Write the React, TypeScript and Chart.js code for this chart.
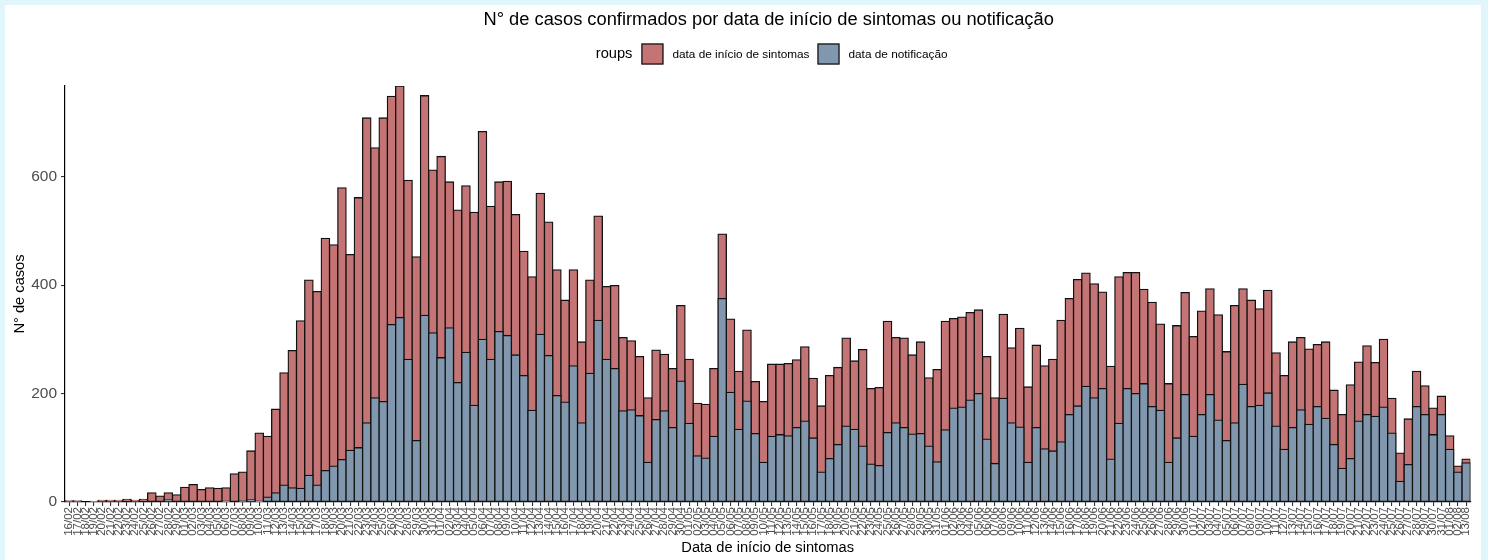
import React, { useEffect, useRef } from 'react';
import { Chart, registerables } from 'chart.js';

Chart.register(...registerables);

const dates: string[] = [
  '16/02', '17/02', '18/02', '19/02', '20/02', '21/02', '22/02', '23/02', '24/02', '25/02', '26/02', '27/02', '28/02', '29/02',
  '01/03', '02/03', '03/03', '04/03', '05/03', '06/03', '07/03', '08/03', '09/03', '10/03', '11/03', '12/03', '13/03', '14/03', '15/03', '16/03',
  '17/03', '18/03', '19/03', '20/03', '21/03', '22/03', '23/03', '24/03', '25/03', '26/03', '27/03', '28/03', '29/03', '30/03', '31/03',
  '01/04', '02/04', '03/04', '04/04', '05/04', '06/04', '07/04', '08/04', '09/04', '10/04', '11/04', '12/04', '13/04', '14/04', '15/04',
  '16/04', '17/04', '18/04', '19/04', '20/04', '21/04', '22/04', '23/04', '24/04', '25/04', '26/04', '27/04', '28/04', '29/04', '30/04',
  '01/05', '02/05', '03/05', '04/05', '05/05', '06/05', '07/05', '08/05', '09/05', '10/05', '11/05', '12/05', '13/05', '14/05', '15/05', '16/05',
  '17/05', '18/05', '19/05', '20/05', '21/05', '22/05', '23/05', '24/05', '25/05', '26/05', '27/05', '28/05', '29/05', '30/05', '31/05',
  '01/06', '02/06', '03/06', '04/06', '05/06', '06/06', '07/06', '08/06', '09/06', '10/06', '11/06', '12/06', '13/06', '14/06', '15/06',
  '16/06', '17/06', '18/06', '19/06', '20/06', '21/06', '22/06', '23/06', '24/06', '25/06', '26/06', '27/06', '28/06', '29/06', '30/06',
  '01/07', '02/07', '03/07', '04/07', '05/07', '06/07', '07/07', '08/07', '09/07', '10/07', '11/07', '12/07', '13/07', '14/07', '15/07', '16/07',
  '17/07', '18/07', '19/07', '20/07', '21/07', '22/07', '23/07', '24/07', '25/07', '26/07', '27/07', '28/07', '29/07', '30/07', '31/07',
  '01/08', '02/08', '13/08',
];

const sintomas: number[] = [
  2, 2, 0, 1, 3, 3, 3, 5, 3, 5, 17, 11, 17, 13, 27, 32, 23, 26, 25, 26,
  52, 55, 94, 127, 121, 171, 238, 279, 334, 409, 388, 486, 474, 579, 456, 561, 708, 653, 708, 748,
  767, 593, 452, 749, 612, 637, 590, 538, 583, 534, 683, 545, 590, 591, 530, 462, 415, 569,
  516, 428, 372, 428, 295, 409, 527, 397, 399, 303, 297, 268, 192, 280, 272, 246, 362, 263, 182, 180,
  246, 494, 337, 241, 317, 222, 185, 254, 254, 255, 262, 286, 228, 177, 233, 248, 302, 260, 281, 209,
  211, 333, 303, 302, 271, 295, 229, 244, 333, 338, 341, 349, 354, 268, 192, 346,
  284, 320, 212, 289, 251, 263, 335, 375, 410, 422, 402, 387, 250, 415, 423, 423, 392, 368, 328, 218,
  325, 386, 305, 352, 393, 345, 277, 362, 393, 372, 356, 390, 275, 233, 295, 303, 282, 290, 295, 206,
  161, 216, 258, 288, 257, 300, 191, 90, 153, 241, 214, 173, 195, 122, 66, 79,
];

const notificacao: number[] = [
  0, 0, 0, 0, 0, 0, 0, 0, 0, 0, 0, 0, 4, 0, 0, 0, 0, 0, 0, 1,
  0, 2, 4, 1, 9, 17, 31, 26, 25, 49, 31, 58, 66, 78, 95, 100, 146, 192, 185, 327,
  340, 263, 113, 344, 312, 266, 321, 220, 276, 178, 300, 263, 314, 307, 271, 233, 169, 309,
  270, 196, 184, 251, 146, 237, 335, 263, 246, 168, 170, 159, 73, 152, 168, 137, 223, 145, 85, 81,
  121, 375, 202, 134, 186, 126, 73, 121, 124, 122, 137, 149, 118, 55, 80, 106, 140, 134, 103, 70,
  67, 128, 146, 137, 125, 126, 103, 74, 133, 173, 175, 188, 200, 116, 71, 191,
  146, 138, 73, 137, 98, 94, 111, 161, 177, 213, 192, 209, 79, 145, 209, 200, 218, 176, 169, 73,
  118, 198, 121, 161, 198, 151, 113, 146, 217, 176, 178, 201, 140, 97, 137, 170, 143, 176, 154, 106,
  62, 80, 149, 161, 158, 175, 127, 38, 69, 176, 161, 124, 161, 97, 55, 72,
];

const yTickValues: number[] = [0, 200, 400, 600];
const yMax = 767;

const chartTitle = 'N° de casos confirmados por data de início de sintomas ou notificação';
const legendTitle = 'roups';
const seriesNames: string[] = ['data de início de sintomas', 'data de notificação'];
const xTitle = 'Data de início de sintomas';
const yTitle = 'N° de casos';

const FONT = "'Liberation Sans', Arial, Helvetica, sans-serif";
const RED = '#C47474';
const BLUE = '#8097AE';
const EDGE = '#111111';

const headerPlugin = {
  id: 'header',
  afterDraw(chart: any) {
    const ctx: CanvasRenderingContext2D = chart.ctx;
    const area = chart.chartArea;
    const cx = (area.left + area.right) / 2;
    ctx.save();
    ctx.fillStyle = '#000';
    ctx.textBaseline = 'middle';
    ctx.textAlign = 'center';
    ctx.font = `18.3px ${FONT}`;
    ctx.fillText(chartTitle, cx + 1, 15);

    ctx.textAlign = 'left';
    ctx.font = `14.67px ${FONT}`;
    const wT = ctx.measureText(legendTitle).width;
    ctx.font = `11.8px ${FONT}`;
    const w1 = ctx.measureText(seriesNames[0]).width;
    const w2 = ctx.measureText(seriesNames[1]).width;
    const box = 22;
    const gap = 9;
    const total = wT + gap + box + gap + w1 + 8 + box + gap + w2;
    let x = cx + 4 - total / 2;
    const midY = 49;
    ctx.font = `14.67px ${FONT}`;
    ctx.fillStyle = '#000';
    ctx.fillText(legendTitle, x, midY);
    x += wT + gap;
    const colors = [RED, BLUE];
    for (let i = 0; i < 2; i++) {
      ctx.fillStyle = colors[i];
      ctx.fillRect(x, midY - 10.5, box, 21);
      ctx.strokeStyle = EDGE;
      ctx.lineWidth = 1.2;
      ctx.strokeRect(x + 0.5, midY - 10, box - 1, 20);
      x += box + gap;
      ctx.fillStyle = '#000';
      ctx.font = `11.8px ${FONT}`;
      ctx.fillText(seriesNames[i], x, midY + 1);
      x += (i === 0 ? w1 : w2) + 8;
    }
    ctx.restore();
  },
};

export default function App() {
  const canvasRef = useRef<HTMLCanvasElement | null>(null);

  useEffect(() => {
    document.body.style.margin = '0';
    const canvas = canvasRef.current;
    if (!canvas) return;
    const barCommon = {
      borderColor: EDGE,
      borderWidth: 1.3,
      borderSkipped: false,
      inflateAmount: 0.65,
      grouped: false,
      categoryPercentage: 1,
      barPercentage: 1,
    };
    const chart = new Chart(canvas, {
      type: 'bar',
      data: {
        labels: dates,
        datasets: [
          { label: seriesNames[0], data: sintomas, backgroundColor: RED, order: 1, ...barCommon } as any,
          { label: seriesNames[1], data: notificacao, backgroundColor: BLUE, order: 0, ...barCommon } as any,
        ],
      },
      options: {
        animation: false,
        responsive: false,
        maintainAspectRatio: false,
        layout: { padding: { top: 81, right: 6, bottom: 0, left: 0 } },
        plugins: {
          legend: { display: false },
          title: { display: false },
          tooltip: { enabled: false },
        },
        scales: {
          x: {
            type: 'category',
            offset: true,
            grid: { display: true, drawOnChartArea: false, drawTicks: true, tickLength: 4, color: '#333333', offset: false, lineWidth: 1.1 },
            border: { display: true, color: '#000000', width: 1.2 },
            ticks: {
              autoSkip: false,
              minRotation: 90,
              maxRotation: 90,
              padding: 1,
              color: '#4D4D4D',
              font: { family: FONT, size: 11.5 },
            },
            title: {
              display: true,
              text: xTitle,
              color: '#000000',
              font: { family: FONT, size: 14.67 },
              padding: { top: 0, bottom: 3 },
            },
            afterFit: (s: any) => { s.height = 58; },
          },
          y: {
            type: 'linear',
            min: 0,
            max: yMax,
            grid: { display: true, drawOnChartArea: false, drawTicks: true, tickLength: 4, color: '#333333', lineWidth: 1.1 },
            border: { display: true, color: '#000000', width: 1.2 },
            ticks: {
              stepSize: 200,
              padding: 4,
              color: '#4D4D4D',
              font: { family: FONT, size: 15.5 },
            },
            afterBuildTicks: (s: any) => {
              s.ticks = yTickValues.map((v) => ({ value: v }));
            },
            title: {
              display: true,
              text: yTitle,
              color: '#000000',
              font: { family: FONT, size: 14.67 },
              padding: { top: 6, bottom: 0 },
            },
            afterFit: (s: any) => { s.width = 60; },
          },
        },
      } as any,
      plugins: [headerPlugin],
    });
    return () => chart.destroy();
  }, []);

  return (
    <div style={{ position: 'absolute', left: 0, top: 0, width: 1488, height: 560, background: '#E1F6FC', overflow: 'hidden' }}>
      <div style={{ position: 'absolute', left: 5, top: 5, width: 1476, height: 555, background: '#FFFFFF' }}>
        <canvas ref={canvasRef} width={1476} height={555} style={{ display: 'block', width: 1476, height: 555 }} />
      </div>
    </div>
  );
}
